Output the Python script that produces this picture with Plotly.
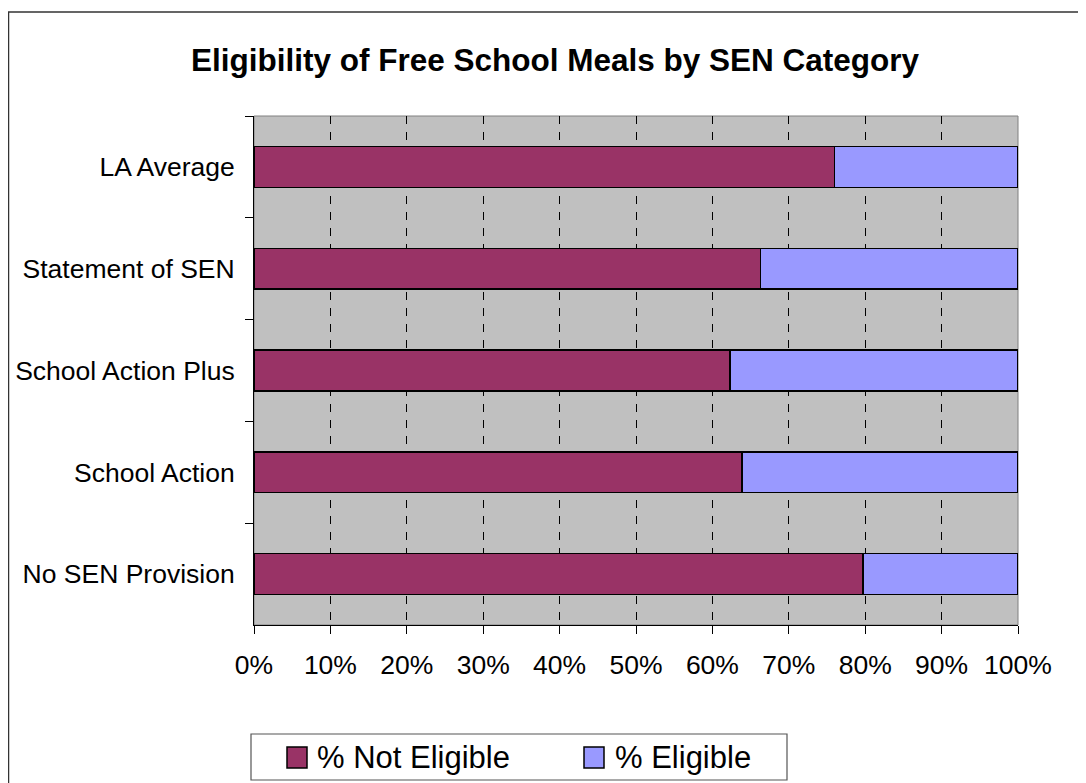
import plotly.graph_objects as go

# categories listed top to bottom as in the chart
categories = ["LA Average", "Statement of SEN", "School Action Plus", "School Action", "No SEN Provision"]
not_eligible = [0.760, 0.663, 0.623, 0.639, 0.797]
eligible = [1 - v for v in not_eligible]
series_names = ["% Not Eligible", "% Eligible"]
series_colors = ["#993366", "#9999FF"]

# the page body adds an 8px margin, so the figure is 8px smaller than the window
OFF = 8
W, H = 1086 - OFF, 783 - OFF
L, T = 254 - OFF, 116 - OFF
R = W - (1018 - OFF)
B = H - (625 - OFF)
pw, ph = W - L - R, H - T - B

def px(x):
    return (x - OFF - L) / pw

def py(y):
    return (H - B - (y - OFF)) / ph

fig = go.Figure()
for vals, name, color in zip([not_eligible, eligible], series_names, series_colors):
    fig.add_trace(go.Bar(y=categories, x=vals, orientation="h", name=name, showlegend=False,
                         marker=dict(color=color, line=dict(color="black", width=1.5))))

fig.update_layout(
    width=W, height=H,
    margin=dict(l=L, r=R, t=T, b=B, autoexpand=False),
    barmode="stack", bargap=0.6,
    paper_bgcolor="white", plot_bgcolor="#C0C0C0",
    font=dict(family="Liberation Sans, Arial", size=26.5, color="black"),
    title=dict(text="<b>Eligibility of Free School Meals by SEN Category</b>",
               xref="container", x=(555 - OFF) / W, xanchor="center",
               yref="container", y=1 - (60 - OFF) / H, yanchor="middle",
               font=dict(size=31.5)),
)
fig.update_xaxes(range=[0, 1], dtick=0.1, tickformat=".0%", showgrid=True,
                 gridcolor="black", gridwidth=1, griddash="8px,8px",
                 showline=True, linecolor="black", linewidth=1,
                 ticks="outside", ticklen=8, tickcolor="black", zeroline=False,
                 ticklabelstandoff=8, fixedrange=True)
fig.update_yaxes(autorange="reversed", showgrid=False, showline=True, linecolor="black",
                 linewidth=1, ticks="outside", ticklen=8, tickcolor="black",
                 tickson="boundaries", ticklabelstandoff=13, fixedrange=True)

# plot area border and outer chart border
fig.add_shape(type="rect", xref="paper", yref="paper", x0=0, x1=1, y0=0, y1=1,
              line=dict(color="#808080", width=1), layer="below")
fig.add_shape(type="rect", xref="paper", yref="paper", x0=px(8.5), x1=px(1110),
              y0=py(820), y1=py(12), line=dict(color="#333333", width=1.5))

# legend box drawn by hand (Excel style, big square keys)
fig.add_shape(type="rect", xref="paper", yref="paper", x0=px(251), x1=px(787),
              y0=py(780), y1=py(734), line=dict(color="#555555", width=1.2),
              fillcolor="white")
for name, color, kx, tx in zip(series_names, series_colors, [287, 584], [317, 615]):
    fig.add_shape(type="rect", xref="paper", yref="paper", x0=px(kx), x1=px(kx + 20),
                  y0=py(768), y1=py(747), line=dict(color="black", width=1.5),
                  fillcolor=color)
    fig.add_annotation(text=name, xref="paper", yref="paper", x=px(tx), y=py(757),
                       xanchor="left", yanchor="middle", showarrow=False,
                       font=dict(size=31), xshift=-2)

fig.write_html("out.html")
